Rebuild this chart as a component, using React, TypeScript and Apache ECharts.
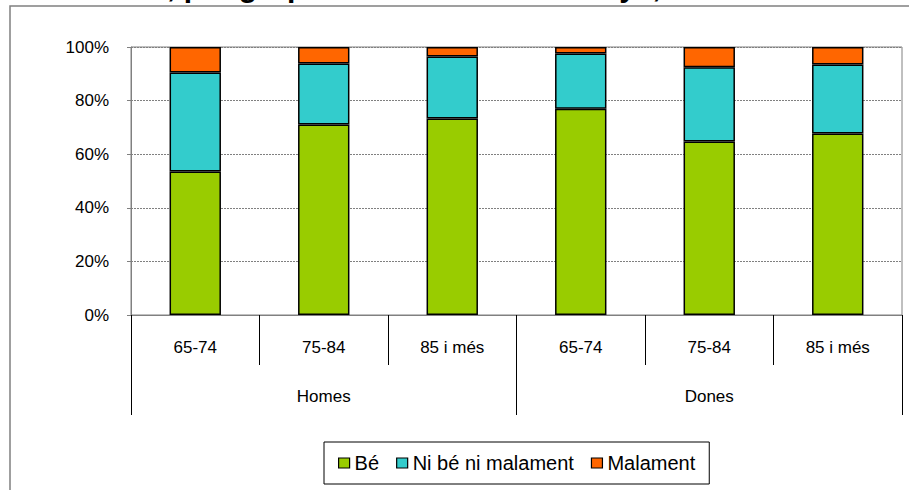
import React, { useEffect, useRef } from "react";
import * as echarts from "echarts";

const FONT = "'Liberation Sans', Arial, Helvetica, sans-serif";

const ageGroups = ["65-74", "75-84", "85 i més", "65-74", "75-84", "85 i més"];
const sexes = ["Homes", "Dones"];
const seriesNames = ["Bé", "Ni bé ni malament", "Malament"];
const seriesColors = ["#99CC00", "#33CCCC", "#FF6600"];

// percentage of each age/sex group per self-rated health answer
const be = [53.5, 71.1, 73.3, 77.0, 64.7, 67.7];
const niBeNiMalament = [37.0, 22.7, 23.2, 20.6, 27.7, 25.8];
const malament = [9.5, 6.2, 3.5, 2.4, 7.6, 6.5];

const titleText = "Estat de salut actual, per grup d'edat i sexe. Catalunya, 1994";

export default function App() {
  const ref = useRef<HTMLDivElement>(null);

  useEffect(() => {
    if (!ref.current) return;
    const chart = echarts.init(ref.current, null, { renderer: "svg" });
    const values = [be, niBeNiMalament, malament];

    chart.setOption({
      animation: false,
      backgroundColor: "#ffffff",
      textStyle: { fontFamily: FONT },
      graphic: [
        {
          type: "rect",
          z: -1,
          shape: { x: 10, y: 6, width: 1000, height: 600 },
          style: { fill: "none", stroke: "#808080", lineWidth: 1.5 },
        },
        {
          type: "text",
          x: 736,
          y: -14,
          style: {
            text: titleText,
            align: "right",
            verticalAlign: "middle",
            font: `bold 30px ${FONT}`,
            fill: "#000",
          },
        },
      ],
      grid: { left: 131, right: 7, top: 47, bottom: 175, show: true, borderColor: "#808080", borderWidth: 1 },
      legend: {
        data: seriesNames,
        left: 324,
        top: 442,
        orient: "horizontal",
        padding: [11, 14, 11, 14],
        itemGap: 17,
        itemWidth: 11,
        itemHeight: 10,
        icon: "rect",
        borderColor: "#000",
        borderWidth: 1,
        backgroundColor: "#fff",
        itemStyle: { borderColor: "#000", borderWidth: 1.2 },
        textStyle: { fontSize: 20, color: "#000", fontFamily: FONT },
      },
      xAxis: [
        {
          type: "category",
          data: ageGroups,
          position: "bottom",
          axisLine: { lineStyle: { color: "#808080", width: 1 } },
          axisTick: { show: true, length: 50, lineStyle: { color: "#000", width: 1 } },
          axisLabel: { margin: 24, fontSize: 17, color: "#000", fontFamily: FONT, interval: 0 },
          splitLine: { show: false },
        },
        {
          type: "category",
          data: sexes,
          position: "bottom",
          axisLine: { show: false },
          axisTick: { show: true, length: 100, lineStyle: { color: "#000", width: 1 } },
          axisLabel: { margin: 73, fontSize: 17, color: "#000", fontFamily: FONT, interval: 0 },
          splitLine: { show: false },
        },
      ],
      yAxis: {
        type: "value",
        min: 0,
        max: 100,
        interval: 20,
        axisLine: { show: true, lineStyle: { color: "#808080" } },
        axisTick: { show: true, length: 4, lineStyle: { color: "#808080" } },
        axisLabel: { formatter: "{value}%", fontSize: 17, color: "#000", margin: 22, fontFamily: FONT },
        splitLine: { show: true, lineStyle: { color: "#808080", type: [2, 1], width: 1 } },
      },
      series: seriesNames.map((name, i) => ({
        name,
        type: "bar",
        stack: "total",
        xAxisIndex: 0,
        barWidth: "40%",
        data: values[i],
        itemStyle: { color: seriesColors[i], borderColor: "#000", borderWidth: 1.5 },
      })),
    });

    return () => chart.dispose();
  }, []);

  return (
    <div
      ref={ref}
      style={{ position: "fixed", left: 0, top: 0, width: 909, height: 490 }}
    />
  );
}
